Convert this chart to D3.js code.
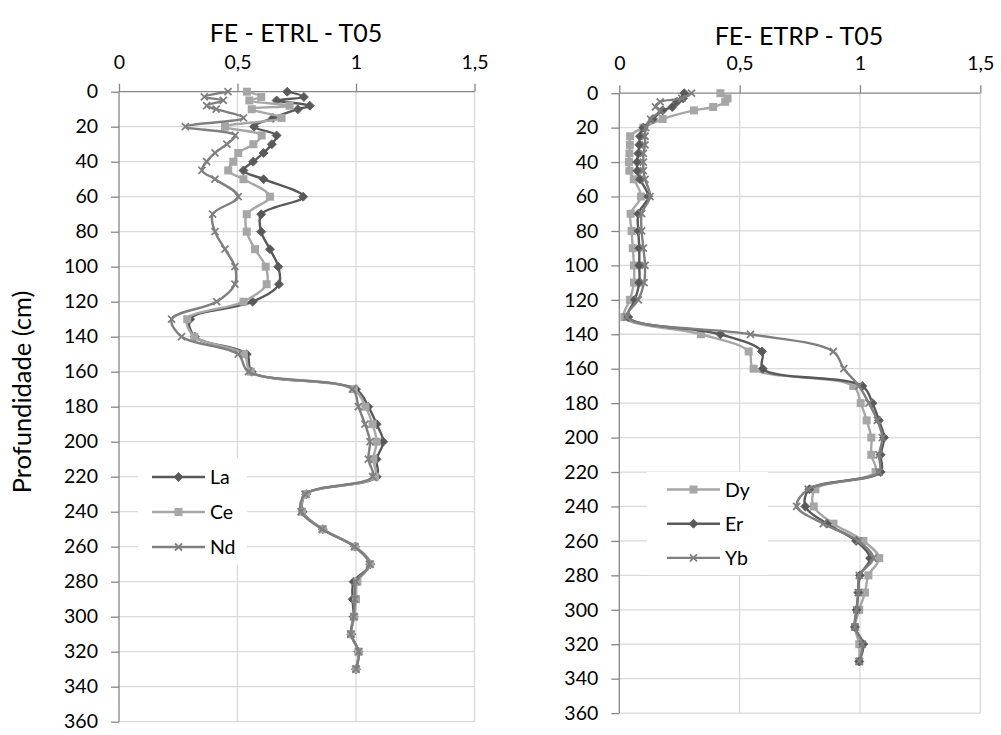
<!DOCTYPE html>
<html>
<head>
<meta charset="utf-8">
<script src="https://cdn.jsdelivr.net/npm/d3@7"></script>
<style>
  html, body { margin: 0; padding: 0; background: #fff; }
  svg { display: block; font-family: Lato, "Open Sans", sans-serif; }
</style>
</head>
<body>
<svg id="chart" width="1001" height="735"></svg>
<script>
// Sampling depths (cm), shared by both profiles
const depths = [0, 3, 5, 8, 10, 15, 20, 25, 30, 35, 40, 45, 50, 60, 70, 80, 90, 100, 110, 120,
  130, 140, 150, 160, 170, 180, 190, 200, 210, 220, 230, 240, 250, 260, 270, 280, 290, 300, 310, 320, 330];

// Light rare earth elements (ETRL)
const laValues = [0.71, 0.78, 0.665, 0.805, 0.755, 0.65, 0.57, 0.665, 0.645, 0.61, 0.566, 0.525, 0.61, 0.777, 0.60, 0.60,
  0.637, 0.672, 0.675, 0.564, 0.30, 0.32, 0.539, 0.56, 1.0, 1.052, 1.087, 1.115, 1.087, 1.087,
  0.79, 0.775, 0.86, 0.996, 1.06, 0.99, 0.986, 0.99, 0.98, 1.01, 1.0];
const ceValues = [0.54, 0.60, 0.55, 0.72, 0.56, 0.686, 0.447, 0.602, 0.567, 0.503, 0.482, 0.461, 0.525, 0.637, 0.539, 0.539,
  0.574, 0.619, 0.623, 0.525, 0.288, 0.318, 0.527, 0.556, 0.99, 1.04, 1.07, 1.087, 1.073, 1.08,
  0.79, 0.772, 0.86, 0.996, 1.06, 1.006, 1.0, 0.993, 0.979, 1.01, 1.0];
const ndValues = [0.46, 0.36, 0.44, 0.37, 0.41, 0.525, 0.28, 0.49, 0.455, 0.405, 0.37, 0.35, 0.405, 0.503, 0.395, 0.405,
  0.447, 0.489, 0.489, 0.412, 0.222, 0.264, 0.503, 0.546, 0.985, 1.01, 1.038, 1.059, 1.052, 1.07,
  0.785, 0.768, 0.857, 0.993, 1.057, 1.0, 0.995, 0.99, 0.978, 1.012, 1.0];

// Heavy rare earth elements (ETRP)
const dyValues = [0.42, 0.45, 0.44, 0.39, 0.31, 0.18, 0.10, 0.045, 0.044, 0.042, 0.04, 0.042, 0.06, 0.09, 0.047, 0.051,
  0.056, 0.061, 0.061, 0.044, 0.021, 0.339, 0.5375, 0.558, 0.972, 1.003, 1.028, 1.047, 1.047, 1.065,
  0.815, 0.808, 0.89, 1.014, 1.08, 1.035, 1.021, 0.997, 0.979, 0.997, 0.997];
const erValues = [0.27, 0.265, 0.24, 0.22, 0.18, 0.14, 0.10, 0.086, 0.083, 0.079, 0.074, 0.075, 0.086, 0.12, 0.079, 0.079,
  0.083, 0.083, 0.083, 0.065, 0.037, 0.42, 0.593, 0.596, 1.01, 1.052, 1.079, 1.1, 1.086, 1.086,
  0.79, 0.773, 0.862, 0.984, 1.042, 1.0, 0.993, 0.986, 0.979, 1.014, 0.997];
const ybValues = [0.30, 0.26, 0.17, 0.15, 0.17, 0.13, 0.11, 0.107, 0.107, 0.10, 0.10, 0.10, 0.107, 0.128, 0.093, 0.093,
  0.10, 0.107, 0.103, 0.079, 0.031, 0.545, 0.889, 0.933, 0.996, 1.037, 1.072, 1.093, 1.079, 1.079,
  0.785, 0.737, 0.848, 0.993, 1.055, 0.997, 0.993, 0.986, 0.979, 1.01, 0.997];

const xTicks = [0, 0.5, 1, 1.5];
const yTicks = d3.range(0, 361, 20);

const leftSeries = [
  { name: "La", values: laValues, color: "#595959", marker: "diamond" },
  { name: "Ce", values: ceValues, color: "#a6a6a6", marker: "square" },
  { name: "Nd", values: ndValues, color: "#7f7f7f", marker: "cross" }
];
const rightSeries = [
  { name: "Dy", values: dyValues, color: "#a6a6a6", marker: "square" },
  { name: "Er", values: erValues, color: "#595959", marker: "diamond" },
  { name: "Yb", values: ybValues, color: "#7f7f7f", marker: "cross" }
];

const FONT = "Lato, 'Open Sans', sans-serif";
const svg = d3.select("#chart");
const fmt = v => String(v).replace(".", ",");

function drawMarker(g, type, x, y, color) {
  if (type === "diamond") {
    g.append("path")
      .attr("d", `M${x},${y - 4.5}L${x + 4.5},${y}L${x},${y + 4.5}L${x - 4.5},${y}Z`)
      .attr("fill", color).attr("stroke", color).attr("stroke-width", 0.8);
  } else if (type === "square") {
    g.append("rect")
      .attr("x", x - 4).attr("y", y - 4).attr("width", 8).attr("height", 8)
      .attr("fill", color);
  } else {
    g.append("path")
      .attr("d", `M${x - 3.5},${y - 3.5}L${x + 3.5},${y + 3.5}M${x - 3.5},${y + 3.5}L${x + 3.5},${y - 3.5}`)
      .attr("stroke", color).attr("stroke-width", 1.8).attr("fill", "none");
  }
}

function drawPanel(cfg) {
  const x = d3.scaleLinear().domain([0, 1.5]).range([cfg.x0, cfg.x1]);
  const y = d3.scaleLinear().domain([0, 360]).range([cfg.y0, cfg.y1]);
  const g = svg.append("g");

  // gridlines
  g.append("g").selectAll("line.v").data(xTicks.filter(d => d > 0)).join("line")
    .attr("x1", d => x(d)).attr("x2", d => x(d))
    .attr("y1", y(0)).attr("y2", y(360))
    .attr("stroke", "#d9d9d9").attr("stroke-width", 1.3);
  g.append("g").selectAll("line.h").data(yTicks.filter(d => d > 0)).join("line")
    .attr("x1", x(0)).attr("x2", x(1.5))
    .attr("y1", d => y(d)).attr("y2", d => y(d))
    .attr("stroke", "#d9d9d9").attr("stroke-width", 1.3);

  // axes
  const xAxis = g.append("g").attr("transform", `translate(0,${y(0)})`)
    .call(d3.axisTop(x).tickValues(xTicks).tickFormat(fmt).tickSize(8).tickPadding(15));
  const yAxis = g.append("g").attr("transform", `translate(${x(0)},0)`)
    .call(d3.axisLeft(y).tickValues(yTicks).tickSize(8).tickPadding(13));
  [xAxis, yAxis].forEach(a => {
    a.select(".domain").attr("stroke", "#868686").attr("stroke-width", 1.3);
    a.selectAll(".tick line").attr("stroke", "#868686").attr("stroke-width", 1.3);
    a.selectAll(".tick text").attr("fill", "#000").attr("font-size", 19.5)
      .attr("font-family", FONT);
  });
  xAxis.select(".domain").attr("d", `M${x(0)},0H${x(1.5)}`);
  yAxis.select(".domain").attr("d", `M0,${y(0)}V${y(360)}`);

  // title
  g.append("text").attr("x", cfg.titleX).attr("y", cfg.titleY)
    .attr("text-anchor", "middle").attr("font-size", 25).attr("fill", "#000")
    .text(cfg.title);

  // series
  const line = d3.line()
    .x(d => x(d.v)).y(d => y(d.depth))
    .curve(d3.curveCatmullRom.alpha(0.5));
  cfg.series.forEach(s => {
    const pts = depths.map((depth, i) => ({ depth, v: s.values[i] }));
    g.append("path").datum(pts)
      .attr("d", line).attr("fill", "none")
      .attr("stroke", s.color).attr("stroke-width", 2.4)
      .attr("stroke-linejoin", "round");
    const mg = g.append("g");
    pts.forEach(p => drawMarker(mg, s.marker, x(p.v), y(p.depth), s.color));
  });

  // legend
  const lg = g.append("g");
  lg.append("rect").attr("x", cfg.legend.x).attr("y", cfg.legend.y)
    .attr("width", cfg.legend.w).attr("height", cfg.legend.h).attr("fill", "#fff");
  cfg.series.forEach((s, i) => {
    const ly = cfg.legend.firstY + i * cfg.legend.step;
    lg.append("line").attr("x1", cfg.legend.lx0).attr("x2", cfg.legend.lx1)
      .attr("y1", ly).attr("y2", ly).attr("stroke", s.color).attr("stroke-width", 2.4);
    drawMarker(lg, s.marker, (cfg.legend.lx0 + cfg.legend.lx1) / 2, ly, s.color);
    lg.append("text").attr("x", cfg.legend.lx1 + 5).attr("y", ly)
      .attr("dy", "0.36em").attr("font-size", 19.5).attr("fill", "#000").text(s.name);
  });
}

drawPanel({
  x0: 119, x1: 474.5, y0: 91.7, y1: 721.7,
  title: "FE - ETRL - T05", titleX: 296, titleY: 42,
  series: leftSeries,
  legend: { x: 138, y: 458, w: 109, h: 107, lx0: 152, lx1: 205, firstY: 477, step: 35 }
});
drawPanel({
  x0: 619.3, x1: 980.3, y0: 93.2, y1: 713.1,
  title: "FE- ETRP - T05", titleX: 799, titleY: 45,
  series: rightSeries,
  legend: { x: 647, y: 472, w: 121, h: 103, lx0: 667, lx1: 720, firstY: 489.5, step: 34.2 }
});

// shared depth axis label
svg.append("text")
  .attr("transform", "translate(31,392) rotate(-90)")
  .attr("text-anchor", "middle").attr("font-size", 25.5).attr("fill", "#000")
  .text("Profundidade (cm)");
</script>
</body>
</html>
